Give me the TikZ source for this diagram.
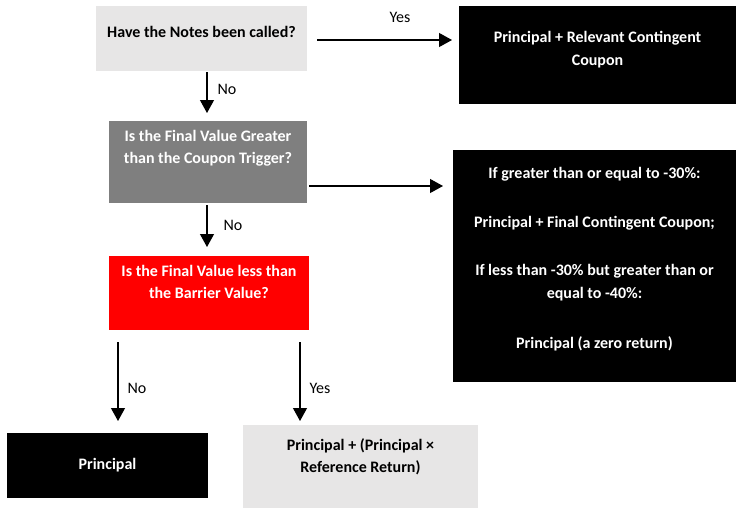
\documentclass[tikz,border=0pt]{standalone}
\usepackage{fontspec}
\setmainfont{Carlito}
\usetikzlibrary{arrows.meta,calc}
\definecolor{lightbox}{HTML}{E7E6E6}
\definecolor{midbox}{HTML}{7F7F7F}
\definecolor{redbox}{HTML}{FF0000}
\begin{document}
\begin{tikzpicture}[x=1pt,y=-1pt,
  box/.style={draw=none, rectangle, inner sep=0pt, anchor=north west},
  txt/.style={font=\fontsize{16}{22.4}\selectfont\bfseries, align=center, inner sep=0pt},
  lbl/.style={font=\fontsize{16}{22.4}\selectfont, inner sep=0pt},
  arr/.style={-{Triangle[width=14pt,length=13pt]}, line width=1.2pt}]
\useasboundingbox[fill=white] (0,0) rectangle (741,509);

% boxes
\node[box, fill=lightbox, minimum width=211pt, minimum height=65pt] (b1) at (96,6) {};
\node[box, fill=black, minimum width=277pt, minimum height=98pt] (b2) at (459,6) {};
\node[box, fill=midbox, minimum width=198pt, minimum height=82pt] (b3) at (109,121) {};
\node[box, fill=black, minimum width=283pt, minimum height=232pt] (b4) at (453,150) {};
\node[box, fill=redbox, minimum width=200pt, minimum height=74pt] (b5) at (109,256) {};
\node[box, fill=black, minimum width=201pt, minimum height=65pt] (b6) at (7,433) {};
\node[box, fill=lightbox, minimum width=235pt, minimum height=83pt] (b7) at (243,425) {};

% texts
\node[txt] (t1) at (201.5,32) {Have the Notes been called?};
\node[txt, text=white] (t2) at (597.5,49.5) {Principal + Relevant Contingent\\Coupon};
\node[txt, text=white] (t3) at (208,148) {Is the Final Value Greater\\than the Coupon Trigger?};
\node[txt, text=white] (t4) at (594.5,259) {If greater than or equal to -30\%:\\[27pt]
  Principal + Final Contingent Coupon;\\[26pt]
  If less than -30\% but greater than or\\equal to -40\%:\\[28pt]
  Principal (a zero return)};
\node[txt, text=white] (t5) at (209,282) {Is the Final Value less than\\the Barrier Value?};
\node[txt, text=white] (t6) at (107.5,465) {Principal};
\node[txt] (t7) at (360.5,457) {Principal + (Principal ×\\Reference Return)};

% connectors
\draw[arr] ($(b1.north east)+(10,34)$) -- ($(b2.north west)+(-7,34)$);
\draw[arr] ($(b3.north east)+(2,65)$) -- ($(b4.north west)+(-10,36)$);
\draw[arr] ($(b1.south west)+(111,1)$) -- ($(b3.north west)+(98,-8)$);
\draw[arr] ($(b3.south west)+(98,2)$) -- ($(b5.north west)+(98,-9)$);
\draw[arr] ($(b5.south west)+(9,12)$) -- ($(b6.north west)+(111,-12)$);
\draw[arr] ($(b5.south west)+(191,12)$) -- ($(b7.north west)+(57,-4)$);

% labels
\node[lbl] (l1) at (400,17) {Yes};
\node[lbl] (l2) at (227,89) {No};
\node[lbl] (l3) at (233,225) {No};
\node[lbl] (l4) at (137,388) {No};
\node[lbl] (l5) at (320,388) {Yes};
\end{tikzpicture}
\end{document}
